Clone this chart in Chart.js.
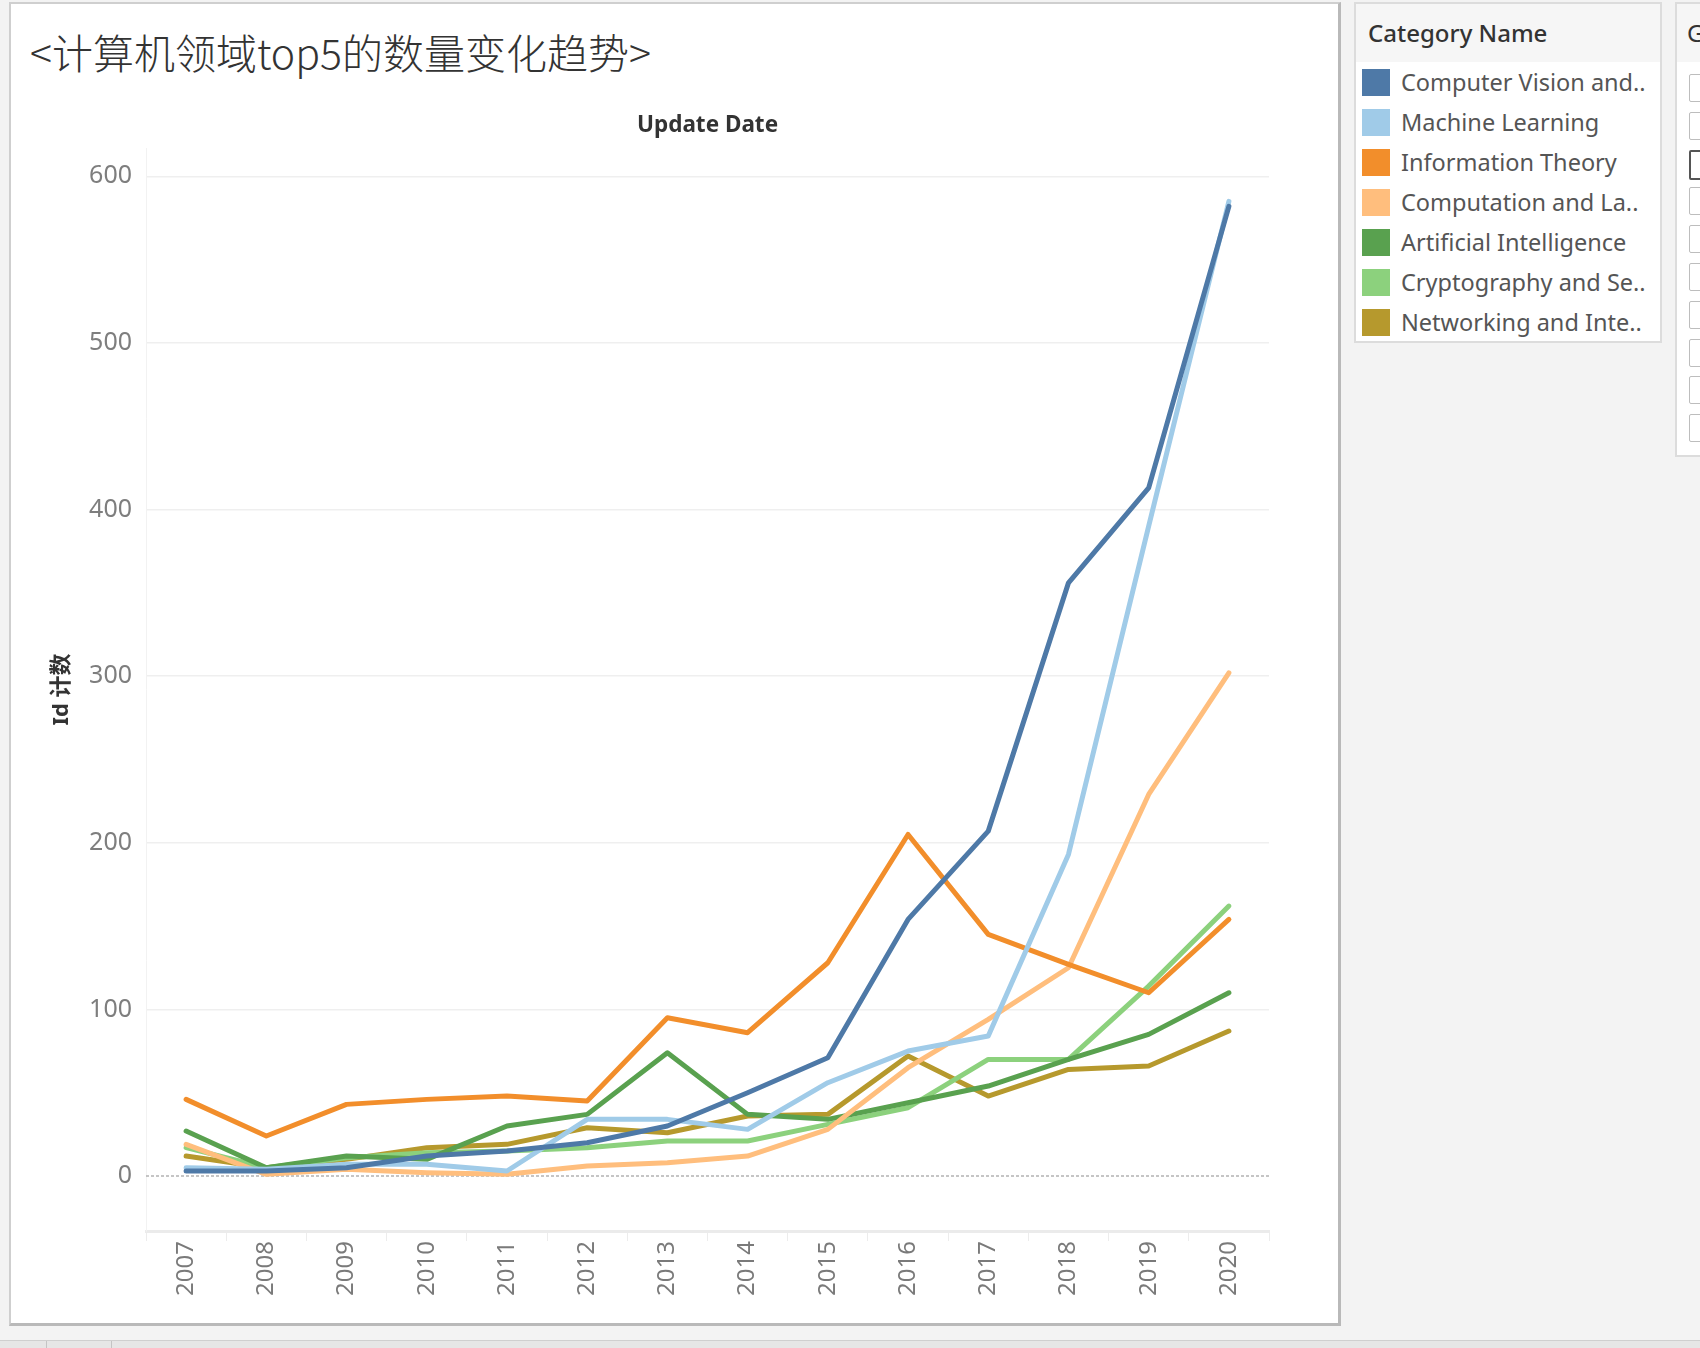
<!DOCTYPE html>
<html>
<head>
<meta charset="utf-8">
<script src="https://cdn.jsdelivr.net/npm/chart.js@4.4.1/dist/chart.umd.min.js"></script>
<style>
  html, body { margin: 0; padding: 0; }
  body {
    width: 1700px; height: 1348px; overflow: hidden; position: relative;
    background: #f3f3f3; font-family: "Noto Sans", "Open Sans", sans-serif;
  }
  .panel {
    position: absolute; left: 9px; top: 2px; width: 1327px; height: 1319px;
    background: #fff; border: 2px solid #cfcfcf; border-right: 3px solid #b9b9b9; border-bottom: 3px solid #b9b9b9;
  }
  .sheet-title {
    position: absolute; left: 19px; top: 17px; font-size: 41px; color: #333;
    font-family: "Noto Sans CJK SC", "Noto Sans", sans-serif; font-weight: 300; white-space: nowrap;
  }
  .chart-box { position: absolute; left: 0; top: 93px; width: 1278px; height: 1219px; }
  .legend {
    position: absolute; left: 1354px; top: 2px; width: 304px; height: 337px;
    background: #fff; border: 2px solid #dcdcdc;
  }
  .legend-head {
    height: 58px; background: #f6f6f6; font-size: 24px; color: #333; font-weight: 500;
    padding-left: 12px; line-height: 58px;
  }
  .legend-row { position: absolute; left: 6px; height: 28px; }
  .legend-dot { position: absolute; left: 0; top: 0; width: 28px; height: 27px; }
  .legend-text { position: absolute; left: 39px; top: -3px; font-size: 23.5px; color: #555; white-space: nowrap; line-height: 32px; }
  .filter {
    position: absolute; left: 1675px; top: 2px; width: 60px; height: 451px;
    background: #fff; border: 2px solid #dcdcdc;
  }
  .filter-head { height: 58px; background: #f6f6f6; font-size: 24px; color: #333; padding-left: 10px; line-height: 58px; }
  .cb { position: absolute; left: 12px; width: 22px; height: 26px; border: 1px solid #bdbdbd; border-radius: 2px; background: #fff; }
  .cb.on { border: 2px solid #555; }
  .tabbar {
    position: absolute; left: 0; top: 1340px; width: 1700px; height: 8px;
    background: #e6e6e6; border-top: 1px solid #cfcfcf;
  }
  .tabsep { position: absolute; top: 0; width: 1px; height: 8px; background: #c4c4c4; }
</style>
</head>
<body>
<div class="panel">
  <div class="sheet-title">&lt;计算机领域top5的数量变化趋势&gt;</div>
  <div class="chart-box"><canvas id="trendChart"></canvas></div>
</div>
<div class="legend">
  <div class="legend-head">Category Name</div>
  <div id="legendRows"></div>
</div>
<div class="filter">
  <div class="filter-head">G</div>
  <div id="filterRows"></div>
</div>
<div class="tabbar">
  <div class="tabsep" style="left:46px"></div>
  <div class="tabsep" style="left:111px"></div>
</div>
<script>
const years = ['2007', '2008', '2009', '2010', '2011', '2012', '2013', '2014', '2015', '2016', '2017', '2018', '2019', '2020'];
const categoryNames = [
  'Computer Vision and..',
  'Machine Learning',
  'Information Theory',
  'Computation and La..',
  'Artificial Intelligence',
  'Cryptography and Se..',
  'Networking and Inte..'
];
const categoryColors = ['#4e79a7', '#a0cbe8', '#f28e2b', '#ffbe7d', '#59a14f', '#8cd17d', '#b6992d'];

const computerVision = [3, 3, 5, 12, 15, 20, 30, 50, 71, 154, 207, 356, 413, 582];
const machineLearning = [5, 4, 7, 7, 3, 34, 34, 28, 56, 75, 84, 193, 390, 585];
const informationTheory = [46, 24, 43, 46, 48, 45, 95, 86, 128, 205, 145, 127, 110, 154];
const computationLanguage = [19, 1, 4, 2, 1, 6, 8, 12, 28, 65, 94, 125, 229, 302];
const artificialIntelligence = [27, 5, 12, 10, 30, 37, 74, 37, 34, 44, 54, 70, 85, 110];
const cryptography = [17, 5, 11, 14, 15, 17, 21, 21, 31, 41, 70, 70, 114, 162];
const networking = [12, 5, 10, 17, 19, 29, 26, 36, 37, 72, 48, 64, 66, 87];

const yTicks = [0, 100, 200, 300, 400, 500, 600];
const filterChecked = [false, false, true, false, false, false, false, false, false, false];

const seriesValues = [computerVision, machineLearning, informationTheory, computationLanguage, artificialIntelligence, cryptography, networking];

// dashed zero reference line, like the Tableau one
const zeroLine = {
  id: 'zeroLine',
  beforeDatasetsDraw(chart) {
    const { ctx, chartArea, scales } = chart;
    const py = scales.y.getPixelForValue(0);
    ctx.save();
    ctx.strokeStyle = '#b3b3b3';
    ctx.lineWidth = 1.5;
    ctx.setLineDash([3, 2]);
    ctx.beginPath();
    ctx.moveTo(chartArea.left, py);
    ctx.lineTo(chartArea.right, py);
    ctx.stroke();
    ctx.restore();
  }
};

function buildLegend() {
  document.getElementById('legendRows').innerHTML = categoryNames.map((name, i) => `
    <div class="legend-row" style="top:${65 + i * 40}px">
      <span class="legend-dot" style="background-color:${categoryColors[i]}"></span>
      <span class="legend-text">${name}</span>
    </div>`).join('');
  document.getElementById('filterRows').innerHTML = filterChecked.map((on, i) =>
    `<div class="cb${on ? ' on' : ''}" style="top:${70 + i * 37.8}px"></div>`).join('');
}

function renderChart() {
  const ctx = document.getElementById('trendChart').getContext('2d');
  new Chart(ctx, {
    type: 'line',
    data: {
      labels: years,
      datasets: categoryNames.map((name, i) => ({
        label: name,
        data: seriesValues[i],
        borderColor: categoryColors[i],
        backgroundColor: categoryColors[i],
        borderWidth: 5,
        pointRadius: 0,
        tension: 0,
        borderJoinStyle: 'round',
        borderCapStyle: 'round'
      }))
    },
    options: {
      responsive: true,
      maintainAspectRatio: false,
      animation: false,
      layout: { padding: { top: 0, right: 20, bottom: 0, left: 0 } },
      plugins: {
        legend: { display: false },
        tooltip: { enabled: false },
        title: {
          display: true,
          text: 'Update Date',
          fullSize: false,
          color: '#333',
          font: { family: 'Noto Sans', size: 22.5, weight: 'bold', lineHeight: 1.2 },
          padding: { top: 15, bottom: 9 }
        }
      },
      scales: {
        x: {
          type: 'category',
          offset: true,
          grid: { offset: true, drawOnChartArea: false, drawTicks: true, tickLength: 10, color: '#ececec', lineWidth: 1 },
          border: { display: true, color: '#ebebeb', width: 3 },
          ticks: { autoSkip: false, minRotation: 90, maxRotation: 90, padding: 0, color: '#7a7a7a', font: { family: 'Noto Sans', size: 24 } },
          afterFit: (scale) => { scale.height = 85; }
        },
        y: {
          min: -33,
          max: 617,
          afterBuildTicks: (scale) => { scale.ticks = yTicks.map((v) => ({ value: v })); },
          grid: {
            drawTicks: false,
            lineWidth: 1.5,
            color: (c) => (c.tick && c.tick.value === 0 ? 'rgba(0,0,0,0)' : '#efefef')
          },
          border: { display: true, color: '#f2f2f2', width: 1 },
          ticks: { padding: 14, color: '#7e7e7e', font: { family: 'Noto Sans', size: 25 } },
          title: {
            display: true,
            text: 'Id 计数',
            color: '#333',
            font: { family: 'Noto Sans, Noto Sans CJK SC', size: 22, weight: 'bold', lineHeight: 1.2 },
            padding: { top: 38, bottom: 0 }
          },
          afterFit: (scale) => { scale.width = 135; }
        }
      }
    },
    plugins: [zeroLine]
  });
}

buildLegend();
renderChart();
</script>
</body>
</html>
